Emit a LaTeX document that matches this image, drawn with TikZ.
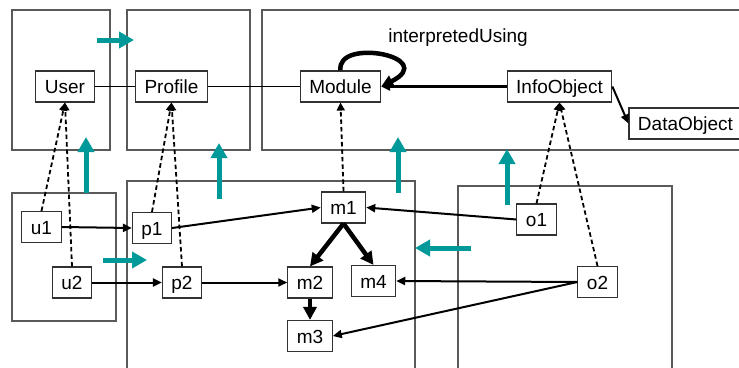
\documentclass[tikz,border=0pt]{standalone}
\usepackage{fontspec}
\setmainfont{Liberation Sans}
\usetikzlibrary{arrows.meta}
\definecolor{flowteal}{RGB}{0,153,153}
\definecolor{framegray}{RGB}{90,90,90}
\definecolor{boxgray}{RGB}{50,50,50}

\tikzset{
  frame/.style={draw=framegray, line width=1.1pt},
  obj/.style={draw=boxgray, line width=1.1pt, fill=white, inner xsep=9pt, inner ysep=0pt,
              minimum height=31pt, text height=14pt, text depth=0pt},
  assoc/.style={line width=1.1pt},
  link/.style={line width=2pt, -{Triangle[length=9pt,width=8pt]}},
  strong/.style={line width=4.5pt, -{Triangle[length=13pt,width=13pt]}},
  inst/.style={line width=1.8pt, dash pattern=on 4.5pt off 3pt, -{Triangle[length=8pt,width=8pt]}},
  flow/.style={draw=flowteal, line width=5pt, -{Triangle[length=15pt,width=16pt]}},
}

\begin{document}
\begin{tikzpicture}[x=1pt, y=-1pt, font=\fontsize{19}{22}\selectfont]
\useasboundingbox (0,0) rectangle (739,367);

% layer frames
\draw[frame] (12,10) rectangle (110,150);
\draw[frame] (127,10) rectangle (250,150);
\draw[frame] (262,10) rectangle (760,150);
\draw[frame] (12,193) rectangle (116,321);
\draw[frame] (127,181) rectangle (415,380);
\draw[frame] (458,186) rectangle (672,380);

% flow arrows between layers
\draw[flow] (97,40) -- (134,40);
\draw[flow] (86,193) -- (86,137);
\draw[flow] (219,199) -- (219,143);
\draw[flow] (398,193) -- (398,137);
\draw[flow] (507,205) -- (507,149);
\draw[flow] (103,260) -- (147,260);
\draw[flow] (471,248) -- (415,248);

% schema level
\node[obj] (User) at (65,86.5) {User};
\node[obj] (Profile) at (171.5,86.5) {Profile};
\node[obj] (Module) at (340.5,86.5) {Module};
\node[obj] (InfoObject) at (559.5,86.5) {InfoObject};
\node[obj] (DataObject) at (685.5,123.5) {DataObject};
\node[anchor=base] (lbl) at (458,42) {interpretedUsing};

% instance level
\node[obj] (u1) at (41.5,227) {u1};
\node[obj] (u2) at (72,282.5) {u2};
\node[obj] (p1) at (152,228) {p1};
\node[obj] (p2) at (182,282.5) {p2};
\node[obj] (m1) at (343.5,207.5) {m1};
\node[obj] (m2) at (310,282.5) {m2};
\node[obj] (m3) at (310,336) {m3};
\node[obj] (m4) at (373.5,281) {m4};
\node[obj] (o1) at (536.5,219.5) {o1};
\node[obj] (o2) at (597.5,282) {o2};

% schema relations
\draw[assoc] (User.east) -- (Profile.west);
\draw[assoc] (Profile.east) -- (Module.west);
\draw[link, line width=2.2pt] (InfoObject.west) -- (Module.east);
\draw[link] (InfoObject.east) -- (DataObject.west);
\draw[line width=4.5pt, -{Triangle[length=12pt,width=12pt]}]
  (Module.north) .. controls (336,37) and (440,57) .. (Module.east);

% instance relations
\draw[link] (u1.east) -- (p1.west);
\draw[link] (u2.east) -- (p2.west);
\draw[link] (p1.east) -- (m1.west);
\draw[link] (p2.east) -- (m2.west);
\draw[link] (o1.west) -- (m1.east);
\draw[link] (o2.west) -- (m4.east);
\draw[link] (o2.west) -- (m3.east);
\draw[strong] (m1.south) -- (m2.north);
\draw[strong] (m1.south) -- (m4.north);
\draw[strong] (m2.south) -- (m3.north);

% instance-of links
\draw[inst] (u1.north) -- (User.south);
\draw[inst] (u2.north) -- (User.south);
\draw[inst] (p1.north) -- (Profile.south);
\draw[inst] (p2.north) -- (Profile.south);
\draw[inst] (m1.north) -- (Module.south);
\draw[inst] (o1.north) -- (InfoObject.south);
\draw[inst] (o2.north) -- (InfoObject.south);
\end{tikzpicture}
\end{document}
